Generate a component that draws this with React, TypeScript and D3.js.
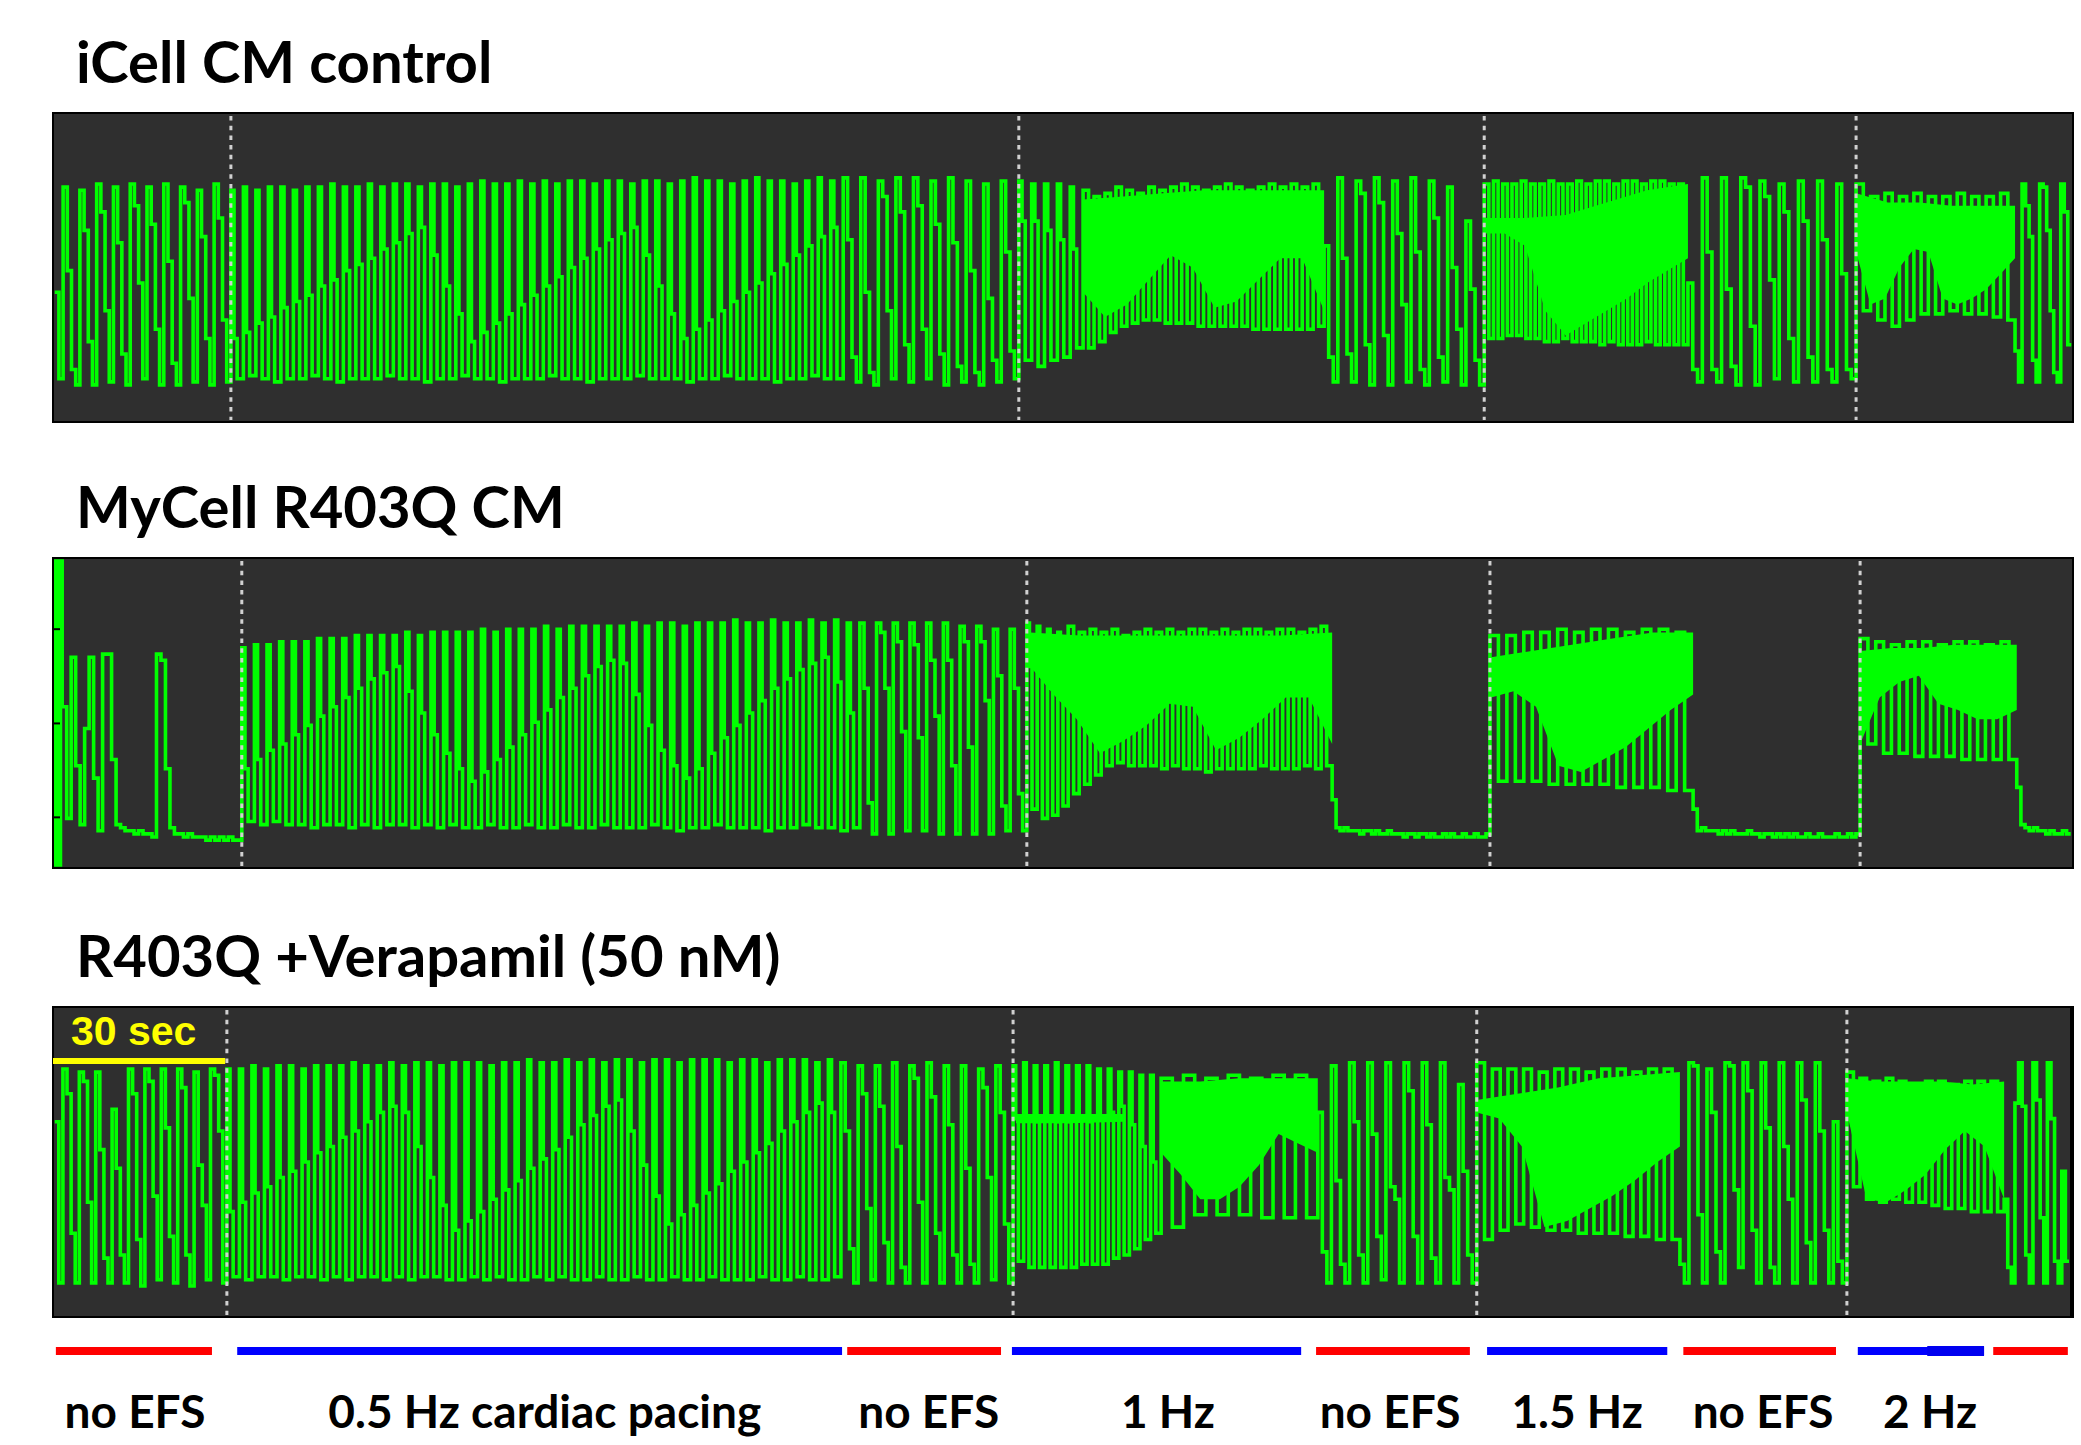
import React, { useEffect, useRef } from "react";
import * as d3 from "d3";

const W = 2081;
const H = 1445;
const GREEN = "#00ff00";
const PANEL_BG = "#2f2f2f";

// time axis (s) shared by the three recordings and the protocol bar
const recordSeconds = 352;
const scaleBarSeconds = 30;

// ---------- iCell CM control (values: % of panel height) ----------
const p1Spont1 = [42, 14, 76, 49, 17, 12, 75, 62, 26, 12, 77, 68, 36, 13, 76, 58, 22, 12, 77, 70, 45, 14,
  76, 64, 30, 12, 77, 52, 19, 12, 76, 71, 40, 13, 75, 60, 27, 12, 77, 66, 33, 13];
const p1Pace05Hi = [75, 76, 75, 76, 76, 75, 76, 76, 77, 76, 76, 77, 76, 77, 77, 76, 77, 77, 76, 77,
  78, 77, 77, 78, 77, 78, 77, 78, 78, 77, 78, 78, 77, 78, 78, 77, 78, 79, 78, 78, 77, 78, 79, 78, 78, 77, 78, 79, 78];
const p1Pace05Mid = [27, 29, 32, 34, 37, 39, 41, 44, 46, 49, 51, 53, 56, 58, 61, 63, 54, 44, 35, 26,
  29, 32, 35, 38, 41, 44, 47, 50, 53, 56, 59, 61, 63, 54, 44, 35, 27, 30, 33, 36, 39, 42, 45, 48, 51, 54, 57, 60, 63];
const p1Pace05Lo = [14, 15, 14, 13, 14, 14, 15, 14, 13, 14, 14, 14, 15, 14, 14, 13, 14, 14, 15, 14,
  14, 13, 14, 14, 14, 15, 14, 14, 13, 14, 14, 14, 15, 14, 14, 14, 13, 14, 14, 15, 14, 14, 14, 13, 14, 14, 15, 14, 14];
const p1Spont2 = [79, 59, 21, 13, 79, 42, 16, 12, 78, 73, 36, 14, 79, 68, 25, 13, 79, 70, 30, 14,
  78, 64, 22, 12, 79, 58, 18, 13, 78, 49, 16, 12, 77, 40, 20, 13, 78, 55, 23, 14];
const p1Pace1Lead = [78, 65, 20, 77, 65, 18, 77, 62, 20, 77, 59, 21, 76, 56, 24];
const p1Pace1Top = [75, 73, 74, 76, 75, 74, 76, 75, 76, 77, 76, 75, 76, 77, 76, 75, 76, 77, 76, 77, 76, 77];
const p1Pace1Lo = [24, 26, 29, 31, 32, 33, 33, 32, 32, 32, 31, 31, 31, 31, 31, 30, 30, 30, 30, 30, 30, 31];
const p1Pace1FillTop = [72, 73, 74, 75, 75, 75, 75];
const p1Pace1FillBot = [42, 34, 38, 46, 54, 50, 37, 39, 46, 53, 53, 36];
const p1Spont3 = [57, 21, 13, 79, 53, 22, 13, 78, 74, 25, 12, 79, 71, 28, 12, 78, 61, 38, 13, 79, 55, 17, 12,
  78, 66, 21, 13, 76, 50, 30, 12, 65, 43, 20, 12];
const p1Pace15Top = [77, 78, 77, 77, 78, 77, 77, 78, 77, 77, 78, 77, 78, 78, 77, 78, 78, 77, 78, 78, 77, 77];
const p1Pace15Lo = [27, 27, 28, 28, 27, 27, 26, 26, 27, 26, 26, 26, 25, 26, 25, 25, 25, 26, 25, 25, 25, 25];
const p1Pace15FillTop = [66, 66, 67, 71, 75, 77];
const p1Pace15FillBot = [61, 61, 57, 36, 28, 32, 36, 40, 45, 49, 53];
const p1Spont4 = [45, 17, 13, 79, 55, 17, 13, 79, 43, 18, 12, 79, 76, 31, 12, 78, 73, 46, 14, 77, 68, 27, 13,
  78, 65, 21, 13, 78, 59, 17, 13, 77, 48, 17, 14];
const p1Pace2Top = [77, 73, 74, 73, 74, 73, 73, 74, 73, 73, 74];
const p1Pace2Lo = [36, 33, 31, 33, 35, 35, 36, 35, 35, 34, 33];
const p1Pace2FillTop = [74, 71, 71, 70, 70, 70];
const p1Pace2FillBot = [55, 38, 40, 50, 56, 55, 40, 38, 40, 43, 48, 53];
const p1Spont5 = [23, 13, 77, 70, 60, 20, 13, 77, 76, 62, 36, 16, 13, 77, 68, 25];
const p1Stims = [31.0, 168.3, 249.4, 314.2];

// ---------- MyCell R403Q CM ----------
const p2Start = [99, 1, 99, 1, 99];
const p2Spont1 = [52, 16, 68, 33, 14, 45, 68, 29, 12, 69, 69, 35, 14, 13, 12, 12, 11, 12, 11, 11,
  10, 69, 67, 32, 13, 11, 11, 10, 11, 10, 10, 10, 9, 10, 9, 10, 9, 10, 9, 9];
const p2Pace05Hi = [71, 72, 72, 73, 73, 73, 74, 74, 74, 75, 75, 75, 75, 76, 75, 76, 76, 76, 76, 77,
  76, 77, 77, 77, 78, 77, 78, 78, 78, 78, 78, 79, 78, 79, 79, 78, 79, 79, 79, 80, 79, 79, 80, 79, 79, 80, 79, 80, 79];
const p2Pace05Mid = [32, 35, 38, 40, 43, 46, 49, 52, 55, 58, 61, 63, 65, 57, 50, 43, 37, 32, 28, 31,
  35, 39, 43, 47, 51, 55, 58, 62, 65, 67, 66, 56, 46, 38, 33, 29, 32, 37, 42, 46, 50, 54, 58, 61, 64, 66, 68, 60, 50];
const p2Pace05Lo = [15, 14, 15, 14, 14, 13, 14, 14, 13, 14, 13, 14, 14, 13, 14, 13, 14, 13, 13, 14,
  13, 13, 14, 13, 13, 14, 13, 13, 14, 13, 13, 13, 14, 13, 12, 13, 13, 14, 13, 13, 13, 12, 13, 13, 14, 13, 13, 12, 13];
const p2Spont2 = [79, 58, 21, 11, 79, 76, 58, 11, 79, 73, 44, 12, 79, 72, 42, 12, 79, 67, 49, 11,
  79, 67, 33, 11, 78, 73, 39, 11, 78, 73, 54, 11, 77, 62, 20, 12, 77, 58, 24, 12];
const p2Pace1Lead = [79, 65, 19, 78, 62, 16, 77, 58, 17, 76, 55, 20];
const p2Pace1Top = [78, 76, 77, 76, 77, 75, 76, 77, 76, 77, 76, 77, 77, 76, 77, 76, 77, 77, 76, 77, 77, 76, 77, 78];
const p2Pace1Lo = [24, 27, 30, 33, 34, 33, 33, 33, 32, 33, 32, 32, 31, 32, 32, 32, 32, 33, 32, 32, 32, 33, 32, 33];
const p2Pace1FillTop = [76, 75, 75, 75, 75, 75, 76];
const p2Pace1FillBot = [65, 56, 48, 37, 41, 46, 53, 52, 38, 42, 48, 55, 55, 40];
const p2Rest1 = [22, 13, 12, 13, 12, 12, 12, 11, 12, 12, 11, 12, 11, 11, 12, 11, 11, 11, 10, 11,
  11, 10, 11, 11, 10, 11, 10, 10, 11, 10, 11, 10, 10, 11, 10, 10, 11, 10, 10, 11];
const p2Pace15Top = [75, 75, 76, 76, 77, 76, 77, 77, 76, 77, 77, 76];
const p2Pace15Lo = [28, 28, 28, 27, 27, 27, 27, 26, 26, 26, 25, 25];
const p2Pace15FillTop = [68, 70, 72, 74, 76, 76];
const p2Pace15FillBot = [55, 57, 52, 33, 31, 35, 39, 45, 51, 56];
const p2Rest2 = [19, 12, 13, 12, 12, 12, 11, 12, 11, 12, 11, 11, 11, 12, 11, 11, 10, 11, 11, 10,
  11, 10, 11, 10, 11, 10, 10, 11, 10, 10, 11, 10, 10, 10, 11, 10, 10, 11, 10, 11];
const p2Pace2Top = [74, 73, 72, 73, 73, 72, 73, 73, 72, 73];
const p2Pace2Lo = [40, 37, 37, 36, 36, 36, 35, 35, 35, 35];
const p2Pace2FillTop = [70, 71, 71, 72, 72, 72];
const p2Pace2FillBot = [40, 55, 60, 62, 53, 51, 48, 48, 51];
const p2Rest3 = [26, 14, 13, 12, 13, 12, 12, 11, 12, 11, 11, 12, 11];
const p2Stims = [32.9, 169.7, 250.4, 314.9];
const p2AxisTicks = [16.5, 46.8, 77.2];

// ---------- R403Q + Verapamil (50 nM) ----------
const p3Spont1 = [63, 11, 80, 72, 27, 11, 79, 76, 37, 11, 79, 54, 19, 11, 67, 48, 20, 11, 80, 72, 25, 10,
  80, 76, 39, 12, 80, 61, 26, 11, 80, 74, 20, 10, 79, 49, 36, 12, 80, 78, 60, 11];
const p3Pace05Hi = [80, 80, 81, 80, 81, 81, 80, 81, 81, 81, 82, 81, 81, 82, 81, 82, 82, 81, 82, 82,
  82, 81, 82, 82, 83, 82, 82, 83, 82, 83, 82, 83, 83, 82, 83, 83, 82, 83, 83, 83, 82, 83, 83, 82, 83, 83, 83, 82, 83];
const p3Pace05Mid = [34, 37, 40, 42, 45, 47, 50, 53, 55, 58, 60, 63, 66, 68, 66, 55, 45, 36, 28, 31,
  34, 38, 41, 44, 48, 51, 54, 58, 62, 65, 68, 70, 60, 49, 39, 30, 33, 36, 40, 43, 47, 50, 53, 56, 60, 63, 66, 69, 66];
const p3Pace05Lo = [13, 12, 13, 13, 12, 13, 13, 12, 13, 12, 13, 13, 12, 13, 12, 13, 13, 12, 12, 13,
  12, 13, 12, 12, 13, 12, 13, 12, 12, 13, 12, 12, 13, 12, 12, 13, 12, 12, 13, 12, 12, 12, 13, 12, 12, 13, 12, 12, 13];
const p3Spont2 = [82, 60, 22, 11, 81, 72, 35, 12, 81, 68, 24, 11, 82, 55, 16, 11, 81, 77, 37, 11,
  82, 71, 27, 11, 81, 62, 20, 11, 81, 48, 17, 11, 80, 74, 45, 12, 81, 66, 30, 11];
const p3Pace1Lead = [81, 64, 18, 82, 64, 16, 81, 63, 16, 81, 64, 16, 82, 63, 16, 81, 63, 16, 81, 64, 17,
  81, 63, 17, 80, 64, 17, 80, 66, 19, 79, 68, 20, 79, 62, 22, 78, 55, 25, 78, 50, 27];
const p3Pace1BandTop = [65.5, 65.5, 65.5];
const p3Pace1BandBot = [62.5, 62.5, 63];
const p3Pace1Top = [77, 78, 77, 78, 77, 78, 78];
const p3Pace1Lo = [29, 33, 33, 33, 32, 32, 32];
const p3Pace1FillTop = [76, 76, 77, 77, 77];
const p3Pace1FillBot = [53, 46, 38, 38, 42, 49, 59, 56, 53];
const p3Spont3 = [66, 21, 11, 81, 44, 17, 11, 82, 63, 20, 11, 82, 59, 26, 12, 82, 42, 38, 11, 82, 73, 26, 11,
  82, 62, 19, 11, 82, 45, 41, 11, 75, 47, 20, 11];
const p3Pace15Top = [82, 80, 80, 80, 79, 80, 80, 79, 80, 80, 79, 80, 80];
const p3Pace15Lo = [25, 28, 30, 29, 28, 28, 27, 27, 27, 26, 26, 25, 25];
const p3Pace15FillTop = [70, 72, 74, 77, 78, 79];
const p3Pace15FillBot = [66, 64, 55, 29, 31, 35, 39, 44, 50, 55];
const p3Spont4 = [17, 11, 82, 81, 33, 11, 80, 66, 21, 11, 82, 81, 41, 16, 82, 73, 28, 11, 82, 61, 16, 11,
  82, 55, 38, 11, 82, 70, 24, 11, 82, 60, 28, 11, 63, 18, 11];
const p3Pace2Top = [79, 77, 76, 77, 76, 75, 76, 76, 75, 76, 76, 76];
const p3Pace2Lo = [42, 38, 37, 38, 37, 37, 36, 35, 35, 34, 34, 34];
const p3Pace2FillTop = [77, 76, 76, 76, 75, 76];
const p3Pace2FillBot = [66, 38, 37, 41, 46, 54, 60, 55, 38];
const p3Spont5 = [38, 16, 11, 69, 82, 68, 20, 11, 82, 70, 32, 11, 82, 64, 18, 11, 47, 18];
const p3Stims = [30.3, 167.3, 248.1, 312.6];

// ---------- protocol bar ----------
const stimKind = ["off", "pace", "off", "pace", "off", "pace", "off", "pace", "off"];
const stimStart = [0.5, 32.1, 138.4, 167.1, 220.1, 249.9, 284.1, 314.5, 338.1];
const stimEnd = [27.7, 137.5, 165.2, 217.5, 246.9, 281.3, 310.7, 336.5, 351.1];
const stimOverlap = [326.6, 336.5];
const labelText = ["no EFS", "0.5 Hz cardiac pacing", "no EFS", "1 Hz", "no EFS", "1.5 Hz", "no EFS", "2 Hz"];
const labelTime = [14.3, 85.7, 152.6, 194.3, 233.0, 265.6, 298.0, 327.1];

// how a paced beat (hi, mid, lo samples) is laid out inside its period
const PACED_DUTY = [0.25, 0.25, 0.5];

type Seg = { t0: number; t1: number; v: number[]; duty?: number[] };
type Fill = { t0: number; t1: number; top: number[]; bot: number[] };

const interleave = (...cols: number[][]): number[] => d3.merge(d3.zip(...cols)) as number[];

const p1Segs: Seg[] = [
  { t0: 0.3, t1: 31.0, v: p1Spont1 },
  { t0: 31.0, t1: 137.7, v: interleave(p1Pace05Hi, p1Pace05Mid, p1Pace05Lo), duty: PACED_DUTY },
  { t0: 137.7, t1: 168.3, v: p1Spont2 },
  { t0: 168.3, t1: 179.5, v: p1Pace1Lead, duty: PACED_DUTY },
  { t0: 179.5, t1: 221.5, v: interleave(p1Pace1Top, p1Pace1Lo) },
  { t0: 221.5, t1: 249.4, v: p1Spont3 },
  { t0: 249.4, t1: 284.9, v: interleave(p1Pace15Top, p1Pace15Lo) },
  { t0: 284.9, t1: 314.2, v: p1Spont4 },
  { t0: 314.2, t1: 341.9, v: interleave(p1Pace2Top, p1Pace2Lo) },
  { t0: 341.9, t1: 351.7, v: p1Spont5 },
];
const p1Fills: Fill[] = [
  { t0: 179.5, t1: 221.5, top: p1Pace1FillTop, bot: p1Pace1FillBot },
  { t0: 249.4, t1: 284.9, top: p1Pace15FillTop, bot: p1Pace15FillBot },
  { t0: 314.2, t1: 341.9, top: p1Pace2FillTop, bot: p1Pace2FillBot },
];

const p2Segs: Seg[] = [
  { t0: 0.1, t1: 1.6, v: p2Start },
  { t0: 1.6, t1: 32.9, v: p2Spont1 },
  { t0: 32.9, t1: 140.6, v: interleave(p2Pace05Hi, p2Pace05Mid, p2Pace05Lo), duty: PACED_DUTY },
  { t0: 140.6, t1: 169.7, v: p2Spont2 },
  { t0: 169.7, t1: 176.9, v: p2Pace1Lead, duty: PACED_DUTY },
  { t0: 176.9, t1: 222.9, v: interleave(p2Pace1Top, p2Pace1Lo) },
  { t0: 222.9, t1: 250.4, v: p2Rest1 },
  { t0: 250.4, t1: 285.8, v: interleave(p2Pace15Top, p2Pace15Lo) },
  { t0: 285.8, t1: 314.9, v: p2Rest2 },
  { t0: 314.9, t1: 342.2, v: interleave(p2Pace2Top, p2Pace2Lo) },
  { t0: 342.2, t1: 351.6, v: p2Rest3 },
];
const p2Fills: Fill[] = [
  { t0: 170.3, t1: 222.9, top: p2Pace1FillTop, bot: p2Pace1FillBot },
  { t0: 250.6, t1: 285.8, top: p2Pace15FillTop, bot: p2Pace15FillBot },
  { t0: 314.9, t1: 342.2, top: p2Pace2FillTop, bot: p2Pace2FillBot },
];

const p3Segs: Seg[] = [
  { t0: 0.3, t1: 30.3, v: p3Spont1 },
  { t0: 30.3, t1: 137.3, v: interleave(p3Pace05Hi, p3Pace05Mid, p3Pace05Lo), duty: PACED_DUTY },
  { t0: 137.3, t1: 167.3, v: p3Spont2 },
  { t0: 167.3, t1: 193.1, v: p3Pace1Lead, duty: PACED_DUTY },
  { t0: 193.1, t1: 220.4, v: interleave(p3Pace1Top, p3Pace1Lo) },
  { t0: 220.4, t1: 248.1, v: p3Spont3 },
  { t0: 248.1, t1: 283.5, v: interleave(p3Pace15Top, p3Pace15Lo) },
  { t0: 283.5, t1: 312.6, v: p3Spont4 },
  { t0: 312.6, t1: 340.0, v: interleave(p3Pace2Top, p3Pace2Lo) },
  { t0: 340.0, t1: 351.3, v: p3Spont5 },
];
const p3Fills: Fill[] = [
  { t0: 167.8, t1: 186.5, top: p3Pace1BandTop, bot: p3Pace1BandBot },
  { t0: 193.1, t1: 220.4, top: p3Pace1FillTop, bot: p3Pace1FillBot },
  { t0: 248.1, t1: 283.5, top: p3Pace15FillTop, bot: p3Pace15FillBot },
  { t0: 312.6, t1: 340.0, top: p3Pace2FillTop, bot: p3Pace2FillBot },
];

const panels = [
  { title: "iCell CM control", top: 113, bottom: 422, segs: p1Segs, fills: p1Fills, stims: p1Stims, ticks: [] as number[] },
  { title: "MyCell R403Q CM", top: 558, bottom: 868, segs: p2Segs, fills: p2Fills, stims: p2Stims, ticks: p2AxisTicks },
  { title: "R403Q +Verapamil (50 nM)", top: 1007, bottom: 1317, segs: p3Segs, fills: p3Fills, stims: p3Stims, ticks: [] as number[] },
];

const TITLE_FONT = "Lato, 'Open Sans', sans-serif";

// sample times of one segment: evenly spread, or beat by beat when a duty pattern is given
function segPoints(s: Seg): [number, number][] {
  if (!s.duty) {
    const dt = (s.t1 - s.t0) / s.v.length;
    return s.v.map((v, i) => [s.t0 + i * dt, v] as [number, number]);
  }
  const k = s.duty.length;
  const beat = (s.t1 - s.t0) / (s.v.length / k);
  const offs = [0, ...Array.from(d3.cumsum(s.duty.slice(0, -1)))];
  return s.v.map((v, i) => [s.t0 + (Math.floor(i / k) + offs[i % k]) * beat, v] as [number, number]);
}

export default function App() {
  const ref = useRef<SVGSVGElement>(null);

  useEffect(() => {
    document.body.style.margin = "0";
    const svg = d3.select(ref.current);
    svg.selectAll("*").remove();

    const x = d3.scaleLinear().domain([0, recordSeconds]).range([53, 2073]);
    const defs = svg.append("defs");

    panels.forEach((p, k) => {
      const y = d3.scaleLinear().domain([0, 100]).range([p.bottom, p.top]);
      const g = svg.append("g");

      g.append("text")
        .attr("x", 76)
        .attr("y", p.top - 30)
        .attr("font-family", TITLE_FONT)
        .attr("font-weight", 700)
        .attr("font-size", 58)
        .attr("fill", "#000")
        .text(p.title);

      g.append("rect")
        .attr("x", x(0))
        .attr("y", p.top)
        .attr("width", x(recordSeconds) - x(0))
        .attr("height", p.bottom - p.top)
        .attr("fill", PANEL_BG);

      const clipId = `trace-clip-${k}`;
      defs.append("clipPath").attr("id", clipId)
        .append("rect")
        .attr("x", x(0) + 1)
        .attr("y", p.top + 1)
        .attr("width", x(recordSeconds) - x(0) - 2)
        .attr("height", p.bottom - p.top - 2);
      const plot = g.append("g").attr("clip-path", `url(#${clipId})`);

      // solid parts of the fast-paced stretches
      const poly = d3.line<[number, number]>();
      p.fills.forEach((f) => {
        const topPts = f.top.map((v, i) => [x(f.t0 + (i * (f.t1 - f.t0)) / (f.top.length - 1)), y(v)] as [number, number]);
        const botPts = f.bot.map((v, i) => [x(f.t0 + (i * (f.t1 - f.t0)) / (f.bot.length - 1)), y(v)] as [number, number]);
        plot.append("path")
          .attr("d", poly(topPts.concat(botPts.reverse())) + "Z")
          .attr("fill", GREEN);
      });

      // stepped trace
      const pts: [number, number][] = d3.merge(p.segs.map(segPoints));
      const last = p.segs[p.segs.length - 1];
      pts.push([last.t1, last.v[last.v.length - 1]]);
      const line = d3.line<[number, number]>()
        .x((d) => x(d[0]))
        .y((d) => y(d[1]))
        .curve(d3.curveStepAfter);
      plot.append("path")
        .attr("d", line(pts))
        .attr("fill", "none")
        .attr("stroke", GREEN)
        .attr("stroke-width", 3.6)
        .attr("stroke-linejoin", "miter");

      // stimulation change markers
      g.selectAll(".stim")
        .data(p.stims)
        .enter()
        .append("line")
        .attr("x1", (d) => x(d))
        .attr("x2", (d) => x(d))
        .attr("y1", p.top + 3)
        .attr("y2", p.bottom - 2)
        .attr("stroke", "#d0d0d0")
        .attr("stroke-width", 3)
        .attr("stroke-dasharray", "4.5 5.2");

      if (p.ticks.length) {
        g.append("g")
          .attr("transform", `translate(${x(0)},0)`)
          .call(d3.axisLeft(y).tickValues(p.ticks).tickSize(-7).tickFormat(() => ""))
          .call((a) => a.select(".domain").remove())
          .selectAll("line")
          .attr("stroke", "#000")
          .attr("stroke-width", 2);
      }

      g.append("rect")
        .attr("x", x(0))
        .attr("y", p.top)
        .attr("width", x(recordSeconds) - x(0))
        .attr("height", p.bottom - p.top)
        .attr("fill", "none")
        .attr("stroke", "#000")
        .attr("stroke-width", 2);

      if (k === 2) {
        g.append("line")
          .attr("x1", x(recordSeconds) - 1)
          .attr("x2", x(recordSeconds) - 1)
          .attr("y1", p.top)
          .attr("y2", p.bottom)
          .attr("stroke", "#000")
          .attr("stroke-width", 4);

        g.append("rect")
          .attr("x", x(0))
          .attr("y", 1058)
          .attr("width", x(scaleBarSeconds) - x(0))
          .attr("height", 6)
          .attr("fill", "#ffff00");
        g.append("text")
          .attr("x", 71)
          .attr("y", 1045)
          .attr("font-family", "'Liberation Sans', Arial, sans-serif")
          .attr("font-weight", 700)
          .attr("font-size", 41)
          .attr("fill", "#ffff00")
          .text(`${scaleBarSeconds} sec`);
      }
    });

    // protocol bar
    const proto = svg.append("g");
    proto.selectAll("rect.seg")
      .data(d3.range(stimKind.length))
      .enter()
      .append("rect")
      .attr("x", (i) => x(stimStart[i]))
      .attr("y", 1347)
      .attr("width", (i) => x(stimEnd[i]) - x(stimStart[i]))
      .attr("height", 8)
      .attr("fill", (i) => (stimKind[i] === "off" ? "#ff0000" : "#0000ff"));
    proto.append("rect")
      .attr("x", x(stimOverlap[0]))
      .attr("y", 1346)
      .attr("width", x(stimOverlap[1]) - x(stimOverlap[0]))
      .attr("height", 10)
      .attr("fill", "#0000f0");

    proto.selectAll("text")
      .data(labelText)
      .enter()
      .append("text")
      .attr("x", (d, i) => x(labelTime[i]))
      .attr("y", 1428)
      .attr("text-anchor", "middle")
      .attr("font-family", TITLE_FONT)
      .attr("font-weight", 700)
      .attr("font-size", 46)
      .attr("fill", "#000")
      .text((d) => d);
  }, []);

  return (
    <svg
      ref={ref}
      width={W}
      height={H}
      style={{ display: "block", position: "absolute", left: 0, top: 0, background: "#fff" }}
    />
  );
}
